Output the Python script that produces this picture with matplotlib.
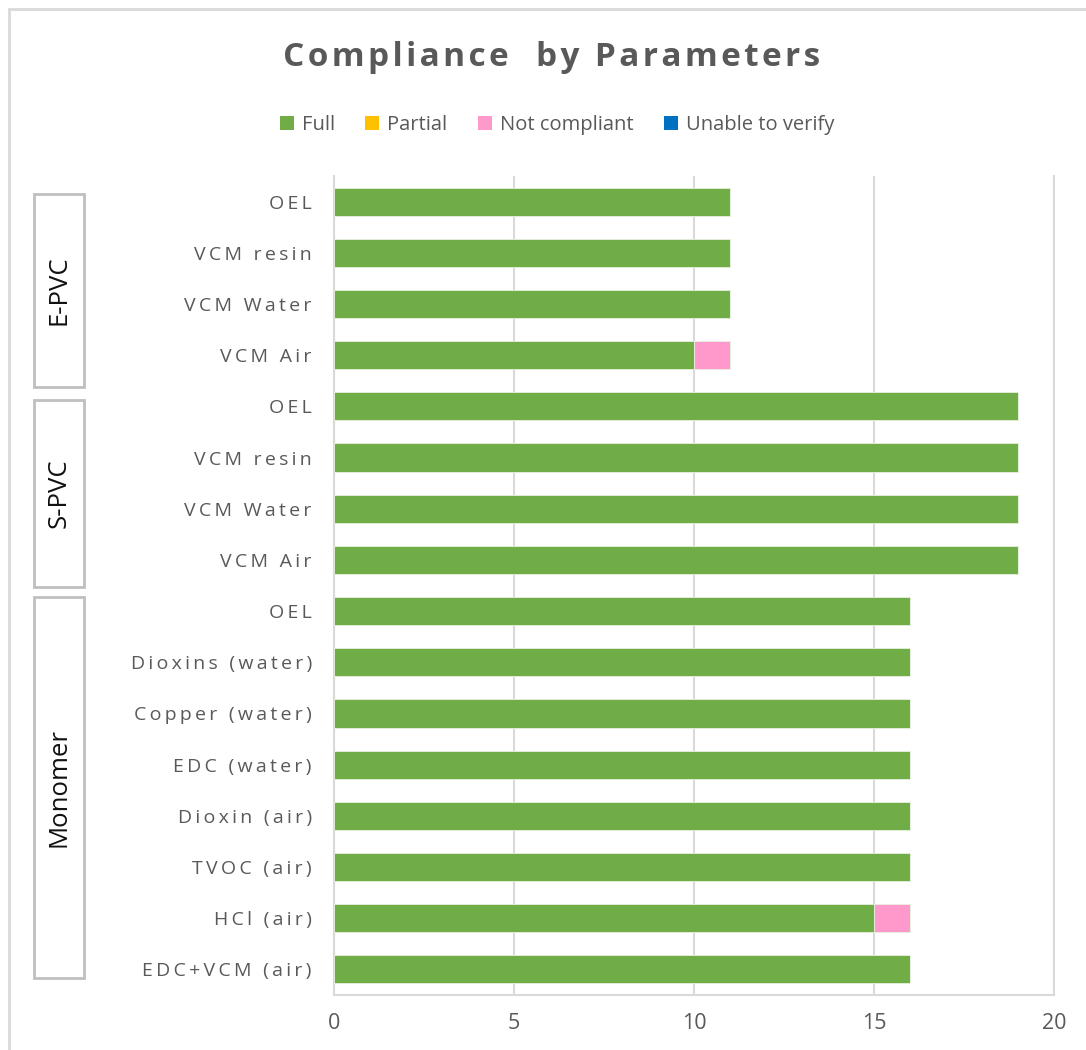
import matplotlib
matplotlib.use("Agg")
import matplotlib.pyplot as plt
from matplotlib.patches import Rectangle, Patch
import numpy as np

# Data (bottom to top, as drawn)
categories = ['EDC+VCM (air)', 'HCl (air)', 'TVOC (air)', 'Dioxin (air)',
              'EDC (water)', 'Copper (water)', 'Dioxins (water)', 'OEL',
              'VCM Air', 'VCM Water', 'VCM resin', 'OEL',
              'VCM Air', 'VCM Water', 'VCM resin', 'OEL']
full = [16, 15, 16, 16, 16, 16, 16, 16, 19, 19, 19, 19, 10, 11, 11, 11]
partial = [0] * 16
not_compliant = [0, 1, 0, 0, 0, 0, 0, 0, 0, 0, 0, 0, 1, 0, 0, 0]
unable = [0] * 16
series_names = ['Full', 'Partial', 'Not compliant', 'Unable to verify']
series_colors = ['#70AD47', '#FFC000', '#FF99CC', '#0070C0']
groups = ['Monomer', 'S-PVC', 'E-PVC']
x_ticks = [0, 5, 10, 15, 20]

TXT = '#595959'
GRID = '#D9D9D9'
FONTS = ['Open Sans', 'DejaVu Sans']


def spaced(s, gap='\u2009'):
    return gap.join(s)


W, H = 1086, 1050
fig = plt.figure(figsize=(W / 100, H / 100), dpi=100)
ax = fig.add_axes([334 / W, 1 - 995 / H, (1054 - 334) / W, (995 - 176) / H])

y = np.arange(len(categories))
left = np.zeros(len(categories))
for name, vals, col in zip(series_names, [full, partial, not_compliant, unable], series_colors):
    vals = np.array(vals, dtype=float)
    ax.barh(y, vals, left=left, height=0.55, color=col, edgecolor='#e8f0e0',
            linewidth=0.6, zorder=3)
    left += vals

ax.set_xlim(0, 20)
ax.set_ylim(-0.5, len(categories) - 0.5)
ax.set_xticks(x_ticks)
ax.set_xticklabels([str(t) for t in x_ticks], fontsize=15.5, color=TXT, family=FONTS)
ax.set_yticks(y)
ax.set_yticklabels([spaced(c) for c in categories], fontsize=14, color=TXT, family=FONTS)
ax.tick_params(axis='y', length=0, pad=16)
ax.tick_params(axis='x', length=0, pad=13)
ax.grid(axis='x', color=GRID, linewidth=1.5, zorder=0)
for s in ['left', 'bottom', 'right']:
    ax.spines[s].set_color(GRID)
    ax.spines[s].set_linewidth(1.5)
ax.spines['top'].set_visible(False)

# title and legend
fig.text(552 / W, 1 - 58 / H, spaced('Compliance  by Parameters', '\u200a'), ha='center',
         va='center', fontsize=24, fontweight='bold', color=TXT, family=FONTS)
handles = [Patch(facecolor=c, edgecolor='none') for c in series_colors]
fig.legend(handles, series_names, loc='center', bbox_to_anchor=(557 / W, 1 - 125 / H),
           ncol=4, frameon=False, labelcolor=TXT,
           handlelength=0.7, handleheight=0.7, handletextpad=0.4, columnspacing=1.5,
           prop={'family': FONTS, 'size': 14.5})

# group boxes on the left
boxes = [(597, 978), (400, 587), (194, 387)]
for name, (top, bot) in zip(groups, boxes):
    fig.add_artist(Rectangle((34 / W, 1 - bot / H), 50 / W, (bot - top) / H,
                             transform=fig.transFigure, fill=False,
                             edgecolor='#BFBFBF', linewidth=2))
    fig.text(59 / W, 1 - (top + bot) / 2 / H, name, rotation=90, ha='center', va='center',
             fontsize=18.5, color='#111111', family=FONTS)

# chart border
fig.add_artist(Rectangle((9 / W, -0.1), 1.2, 1 - 9 / H + 0.1, transform=fig.transFigure,
                         fill=False, edgecolor=GRID, linewidth=2))

fig.savefig('out.png', dpi=100)
